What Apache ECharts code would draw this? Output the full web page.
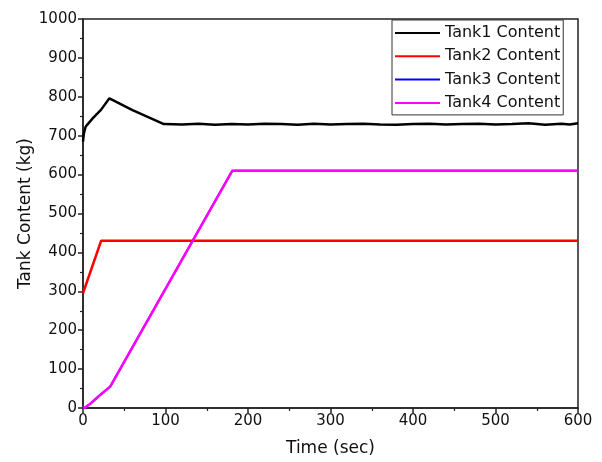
<!DOCTYPE html>
<html>
<head>
<meta charset="utf-8">
<script src="https://cdn.jsdelivr.net/npm/echarts@6/dist/echarts.min.js"></script>
<style>
  html, body { margin: 0; padding: 0; background: #fff; }
  #box { width: 602px; height: 462px; }
</style>
</head>
<body>
<div id="box"></div>
<script>
// values
var seriesNames = ['Tank1 Content', 'Tank2 Content', 'Tank3 Content', 'Tank4 Content'];

var tank1Time = [0, 1, 3, 5, 12, 22, 32, 60, 98, 120, 140, 160, 180, 200, 220, 240, 260, 280, 300, 320, 340,
                 360, 380, 400, 420, 440, 460, 480, 500, 520, 540, 560, 580, 590, 600];
var tank1Val  = [685, 705, 722, 728, 745, 767, 796, 766, 730, 729, 731, 728, 730, 729, 731, 730, 728, 731,
                 729, 730, 731, 729, 728, 730, 731, 729, 730, 731, 729, 730, 732, 728, 731, 729, 732];

var tank2Time = [0, 22, 600];
var tank2Val  = [295, 430, 430];

var tank3Time = [0, 3, 10, 20, 33, 181, 600];
var tank3Val  = [0, 2, 13, 32, 55, 610, 610];

var tank4Time = [0, 3, 10, 20, 33, 181, 600];
var tank4Val  = [0, 2, 13, 32, 55, 610, 610];

var xTicks = [0, 100, 200, 300, 400, 500, 600];
var yTicks = [0, 100, 200, 300, 400, 500, 600, 700, 800, 900, 1000];

function pairs(t, v) {
  var out = [];
  for (var i = 0; i < t.length; i++) out.push([t[i], v[i]]);
  return out;
}

var myChart = echarts.init(document.getElementById('box'));
var font = 'DejaVu Sans';

var option = {
  animation: false,
  backgroundColor: '#fff',
  grid: {
    left: 83,
    right: 24,
    top: 19,
    bottom: 52,
    show: true,
    borderColor: '#222',
    borderWidth: 1.5
  },
  legend: {
    orient: 'vertical',
    left: 392,
    top: 20,
    padding: [5, 3, 4, 2],
    itemWidth: 45,
    itemHeight: 14,
    itemGap: 7.3,
    backgroundColor: '#fff',
    borderColor: '#333',
    borderWidth: 1,
    borderRadius: 0,
    itemStyle: { opacity: 0 },
    textStyle: { fontFamily: font, fontSize: 16, color: '#111' },
    data: seriesNames
  },
  xAxis: {
    type: 'value',
    min: xTicks[0],
    max: xTicks[xTicks.length - 1],
    interval: 100,
    name: 'Time (sec)',
    nameLocation: 'middle',
    nameGap: 32,
    nameMoveOverlap: false,
    nameTextStyle: { fontFamily: font, fontSize: 17, color: '#111' },
    axisLine: { show: true, lineStyle: { color: '#222', width: 1.5 } },
    axisTick: { show: true, length: 5, lineStyle: { color: '#222', width: 1.5 } },
    minorTick: { show: true, splitNumber: 2, length: 3, lineStyle: { color: '#222', width: 1.2 } },
    axisLabel: { fontFamily: font, fontSize: 15, color: '#111', margin: 6 },
    splitLine: { show: false }
  },
  yAxis: {
    type: 'value',
    min: yTicks[0],
    max: yTicks[yTicks.length - 1],
    interval: 100,
    name: 'Tank Content (kg)',
    nameLocation: 'middle',
    nameGap: 49,
    nameMoveOverlap: false,
    nameTextStyle: { fontFamily: font, fontSize: 17, color: '#111' },
    axisLine: { show: true, lineStyle: { color: '#222', width: 1.5 } },
    axisTick: { show: true, length: 5, lineStyle: { color: '#222', width: 1.5 } },
    minorTick: { show: true, splitNumber: 2, length: 3, lineStyle: { color: '#222', width: 1.2 } },
    axisLabel: {
      fontFamily: font, fontSize: 15, color: '#111', margin: 6,
      formatter: function (v) { return String(v); }
    },
    splitLine: { show: false }
  },
  series: [
    {
      name: seriesNames[0], type: 'line', symbol: 'none',
      lineStyle: { color: '#000', width: 2.5 }, itemStyle: { color: '#000' },
      data: pairs(tank1Time, tank1Val)
    },
    {
      name: seriesNames[1], type: 'line', symbol: 'none',
      lineStyle: { color: '#ff0000', width: 2.5 }, itemStyle: { color: '#ff0000' },
      data: pairs(tank2Time, tank2Val)
    },
    {
      name: seriesNames[2], type: 'line', symbol: 'none',
      lineStyle: { color: '#0000ff', width: 2 }, itemStyle: { color: '#0000ff' },
      data: pairs(tank3Time, tank3Val)
    },
    {
      name: seriesNames[3], type: 'line', symbol: 'none',
      lineStyle: { color: '#ff00ff', width: 2.5 }, itemStyle: { color: '#ff00ff' },
      data: pairs(tank4Time, tank4Val)
    }
  ]
};
myChart.setOption(option);
</script>
</body>
</html>
